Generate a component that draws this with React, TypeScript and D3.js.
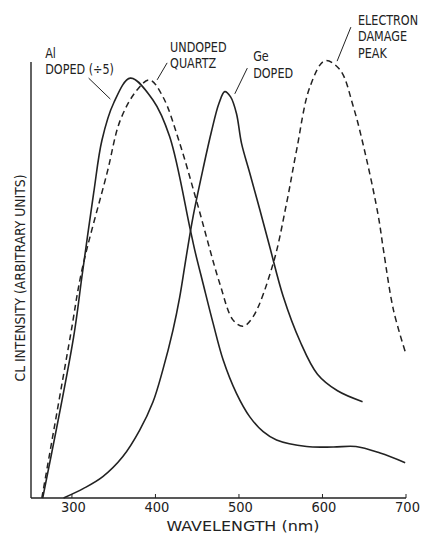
import React from 'react';
import * as d3 from 'd3';

// wavelength (nm) / CL intensity (arbitrary units, 0-100 = axis height)
const alWavelength = [265, 302, 312, 326, 336, 350, 370, 397, 417, 441, 447, 457, 469, 481, 497, 513, 529, 545, 581, 613, 640, 669, 699];
const alIntensity = [0, 36.9, 50.8, 69.9, 82.1, 90.6, 96.3, 91.3, 82.9, 62.2, 56.9, 49.2, 40.1, 31.7, 24, 18.6, 15.2, 13.3, 11.8, 11.7, 11.8, 10.3, 8.1];

const quartzWavelength = [264, 298, 312, 342, 358, 378, 393, 409, 429, 449, 477, 493, 505, 517, 541, 557, 569, 585, 603, 621, 637, 653, 667, 673, 685, 699];
const quartzIntensity = [0, 37, 52.3, 74.5, 86.7, 93.6, 95.9, 92, 81.4, 68.3, 49.2, 40.8, 39.4, 41.6, 53.8, 67.6, 79.8, 94.3, 100.3, 98.2, 89.7, 77.5, 64.5, 56.9, 43.1, 33.6];

const geWavelength = [290, 314, 337, 361, 381, 397, 409, 421, 429, 437, 445, 457, 467, 476, 483, 490, 497, 503, 513, 525, 537, 553, 573, 594, 618, 648];
const geIntensity = [0, 2.2, 4.9, 9.5, 15.5, 22, 29.5, 38.5, 46, 55.5, 64.5, 75.5, 84, 90.5, 93.2, 92, 88.2, 81.4, 74.5, 66.1, 57.5, 46.2, 36, 28.4, 24.6, 22.1];

const xTicks = [300, 400, 500, 600, 700];

// annotations: text lines, anchor (nm, intensity), leader line from/to (nm, intensity)
const annotations = [
  { lines: ['Al', 'DOPED (÷5)'], at: [268, 101], from: [320, 96.3], to: [346, 91.5] },
  { lines: ['UNDOPED', 'QUARTZ'], at: [417.5, 102.3], from: [414, 99.8], to: [402, 95.9] },
  { lines: ['Ge', 'DOPED'], at: [517, 100.2], from: [510, 98.6], to: [495, 92.7] },
  { lines: ['ELECTRON', 'DAMAGE', 'PEAK'], at: [642.5, 108.5], from: [634, 108], to: [617.5, 100.2] },
];

const width = 426;
const height = 538;
const font = "'DejaVu Sans Condensed', 'DejaVu Sans', sans-serif";
const ink = '#222';

const App = () => {
  const x = d3.scaleLinear().domain([251, 700]).range([31, 406]);
  const y = d3.scaleLinear().domain([0, 100]).range([498, 62]);

  const line = d3
    .line<[number, number]>()
    .x(d => x(d[0]))
    .y(d => y(d[1]))
    .curve(d3.curveCatmullRom.alpha(0.5));

  const al = line(alWavelength.map((w, i) => [w, alIntensity[i]]));
  const quartz = line(quartzWavelength.map((w, i) => [w, quartzIntensity[i]]));
  const ge = line(geWavelength.map((w, i) => [w, geIntensity[i]]));

  const lineHeight = 16.5;

  return (
    <div style={{ position: 'absolute', left: 0, top: 0 }}>
      <svg width={width} height={height} style={{ display: 'block', background: '#fff' }}>
        {/* axes */}
        <line x1={x(251)} x2={x(251)} y1={y(100)} y2={y(0)} stroke={ink} strokeWidth={1.4} />
        <line x1={x(251)} x2={x(700)} y1={y(0)} y2={y(0)} stroke={ink} strokeWidth={1.4} />
        {xTicks.map(t => (
          <g key={t}>
            <line x1={x(t)} x2={x(t)} y1={y(0)} y2={y(0) - 4} stroke={ink} strokeWidth={1} />
            <text x={x(t) + 1.5} y={512} textAnchor="middle" fontFamily={font} fontSize={14.5} fill={ink}>
              {t}
            </text>
          </g>
        ))}
        <text x={243} y={531} textAnchor="middle" fontFamily={font} fontSize={14} fill={ink} textLength={153} lengthAdjust="spacingAndGlyphs">
          WAVELENGTH (nm)
        </text>
        <text
          transform="translate(25,278) rotate(-90)"
          textAnchor="middle"
          fontFamily={font}
          fontSize={14}
          fill={ink}
          textLength={207}
          lengthAdjust="spacingAndGlyphs"
        >
          CL INTENSITY (ARBITRARY UNITS)
        </text>

        {/* curves */}
        <path d={al ?? ''} fill="none" stroke={ink} strokeWidth={1.6} />
        <path d={ge ?? ''} fill="none" stroke={ink} strokeWidth={1.6} />
        <path d={quartz ?? ''} fill="none" stroke={ink} strokeWidth={1.5} strokeDasharray="6,4" />

        {/* annotations */}
        {annotations.map((a, i) => (
          <g key={i}>
            <line x1={x(a.from[0])} y1={y(a.from[1])} x2={x(a.to[0])} y2={y(a.to[1])} stroke={ink} strokeWidth={1} />
            {a.lines.map((l, j) => (
              <text
                key={j}
                transform={`translate(${x(a.at[0])},${y(a.at[1]) + j * lineHeight}) scale(0.86,1)`}
                fontFamily={font}
                fontSize={14.5}
                fill={ink}
              >
                {l}
              </text>
            ))}
          </g>
        ))}
      </svg>
    </div>
  );
};

export default App;
